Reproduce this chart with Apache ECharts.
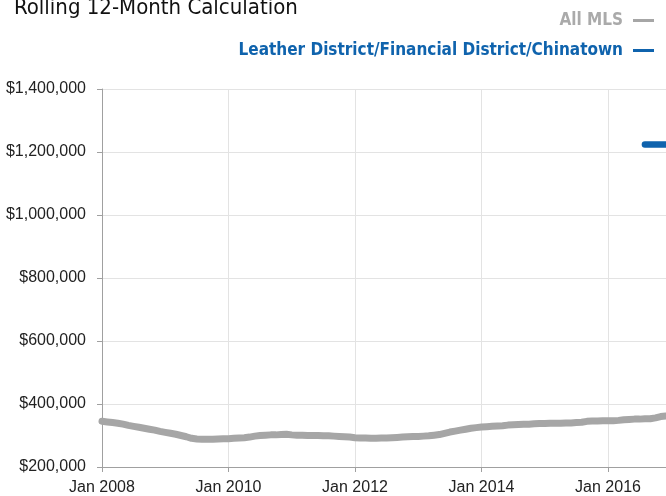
<!DOCTYPE html>
<html>
<head>
<meta charset="utf-8">
<script src="https://cdn.jsdelivr.net/npm/echarts@6/dist/echarts.min.js"></script>
<style>
html,body{margin:0;padding:0;background:#fff;}
#chart{width:666px;height:496px;}
</style>
</head>
<body>
<div id="chart"></div>
<script>
var titleText = 'Rolling 12-Month Calculation';
var seriesNames = ['All MLS', 'Leather District/Financial District/Chinatown'];
var years = [2008, 2009, 2010, 2011, 2012, 2013, 2014, 2015, 2016];
var monthNames = ['Jan','Feb','Mar','Apr','May','Jun','Jul','Aug','Sep','Oct','Nov','Dec'];
var yTicks = [200000, 400000, 600000, 800000, 1000000, 1200000, 1400000];

// All MLS, median price in thousands, monthly Jan 2008 - Dec 2016
var allMls = [
  345, 343, 341, 339, 336, 332, 329, 326, 323, 320, 317, 313,
  310, 307, 304, 300, 296, 291, 289, 288, 288, 288, 289, 290,
  290, 291, 292, 293, 295, 298, 300, 301, 302, 302, 303, 304,
  302, 301, 301, 300, 300, 300, 299, 299, 298, 297, 296, 295,
  293, 292, 292, 291, 291, 292, 292, 293, 294, 295, 296, 297,
  297, 298, 299, 301, 303, 307, 311, 314, 317, 320, 323, 325,
  327, 328, 329, 330, 331, 333, 334, 335, 336, 336, 337, 338,
  338, 339, 339, 339, 340, 340, 341, 342, 345, 346, 346, 347,
  347, 347, 348, 350, 351, 352, 352, 353, 353, 356, 360, 362
];
// Leather District/Financial District/Chinatown (only recent months visible)
var leather = [
  null, null, null, null, null, null, null, null, null, null, null, null,
  null, null, null, null, null, null, null, null, null, null, null, null,
  null, null, null, null, null, null, null, null, null, null, null, null,
  null, null, null, null, null, null, null, null, null, null, null, null,
  null, null, null, null, null, null, null, null, null, null, null, null,
  null, null, null, null, null, null, null, null, null, null, null, null,
  null, null, null, null, null, null, null, null, null, null, null, null,
  null, null, null, null, null, null, null, null, null, null, null, null,
  null, null, null, null, null, null, null, 1224, 1224, 1224, 1224, 1224
];

var categories = [];
years.forEach(function (y) { monthNames.forEach(function (m) { categories.push(m + ' ' + y); }); });
function toDollars(arr) { return arr.map(function (v) { return v == null ? null : v * 1000; }); }

var narrow = "'Liberation Sans Narrow', 'DejaVu Sans Condensed', 'Liberation Sans', sans-serif";
var base = "'Liberation Sans', Arial, sans-serif";
var grey = '#a6a6a6';
var blue = '#0f63ad';

var chart = echarts.init(document.getElementById('chart'), null, {renderer: 'canvas'});
chart.setOption({
  animation: false,
  backgroundColor: '#ffffff',
  title: {
    text: titleText,
    left: 9,
    top: -8,
    textStyle: {fontFamily: narrow, fontSize: 22, fontWeight: 'normal', color: '#111', lineHeight: 22}
  },
  legend: {
    orient: 'vertical',
    right: 7,
    top: 7,
    align: 'right',
    itemWidth: 21,
    itemHeight: 3,
    itemGap: 13,
    icon: 'rect',
    selectedMode: false,
    data: [
      {name: seriesNames[0], itemStyle: {color: grey}, textStyle: {color: '#aaaaaa'}},
      {name: seriesNames[1], itemStyle: {color: blue}, textStyle: {color: blue}}
    ],
    textStyle: {fontFamily: narrow, fontSize: 17, fontWeight: 'bold', lineHeight: 17, padding: [0, 5, 0, 0]}
  },
  grid: {left: 102, right: -2, top: 89, bottom: 27, containLabel: false},
  xAxis: {
    type: 'category',
    data: categories,
    boundaryGap: false,
    axisLine: {show: true, lineStyle: {color: '#a0a0a0', width: 1}},
    axisTick: {show: true, interval: 23, length: 5, lineStyle: {color: '#a0a0a0'}},
    axisLabel: {interval: 23, margin: 13, fontFamily: base, fontSize: 16, color: '#222'},
    splitLine: {show: true, interval: 23, lineStyle: {color: '#e3e3e3', width: 1}}
  },
  yAxis: {
    type: 'value',
    min: yTicks[0],
    max: yTicks[yTicks.length - 1],
    interval: yTicks[1] - yTicks[0],
    axisLine: {show: true, lineStyle: {color: '#a0a0a0', width: 1}},
    axisTick: {show: true, length: 5, lineStyle: {color: '#a0a0a0'}},
    axisLabel: {
      margin: 16, fontFamily: base, fontSize: 16, color: '#222',
      formatter: function (v) { return '$' + v.toLocaleString('en-US'); }
    },
    splitLine: {show: true, lineStyle: {color: '#e3e3e3', width: 1}}
  },
  series: [
    {
      name: seriesNames[0], type: 'line', data: toDollars(allMls),
      showSymbol: false, symbol: 'none', smooth: false,
      lineStyle: {color: grey, width: 7, cap: 'round', join: 'round'},
      itemStyle: {color: grey}, z: 2
    },
    {
      name: seriesNames[1], type: 'line', data: toDollars(leather),
      showSymbol: false, symbol: 'none', connectNulls: false,
      lineStyle: {color: blue, width: 6.5, cap: 'round', join: 'round'},
      itemStyle: {color: blue}, z: 3
    }
  ]
});
</script>
</body>
</html>
